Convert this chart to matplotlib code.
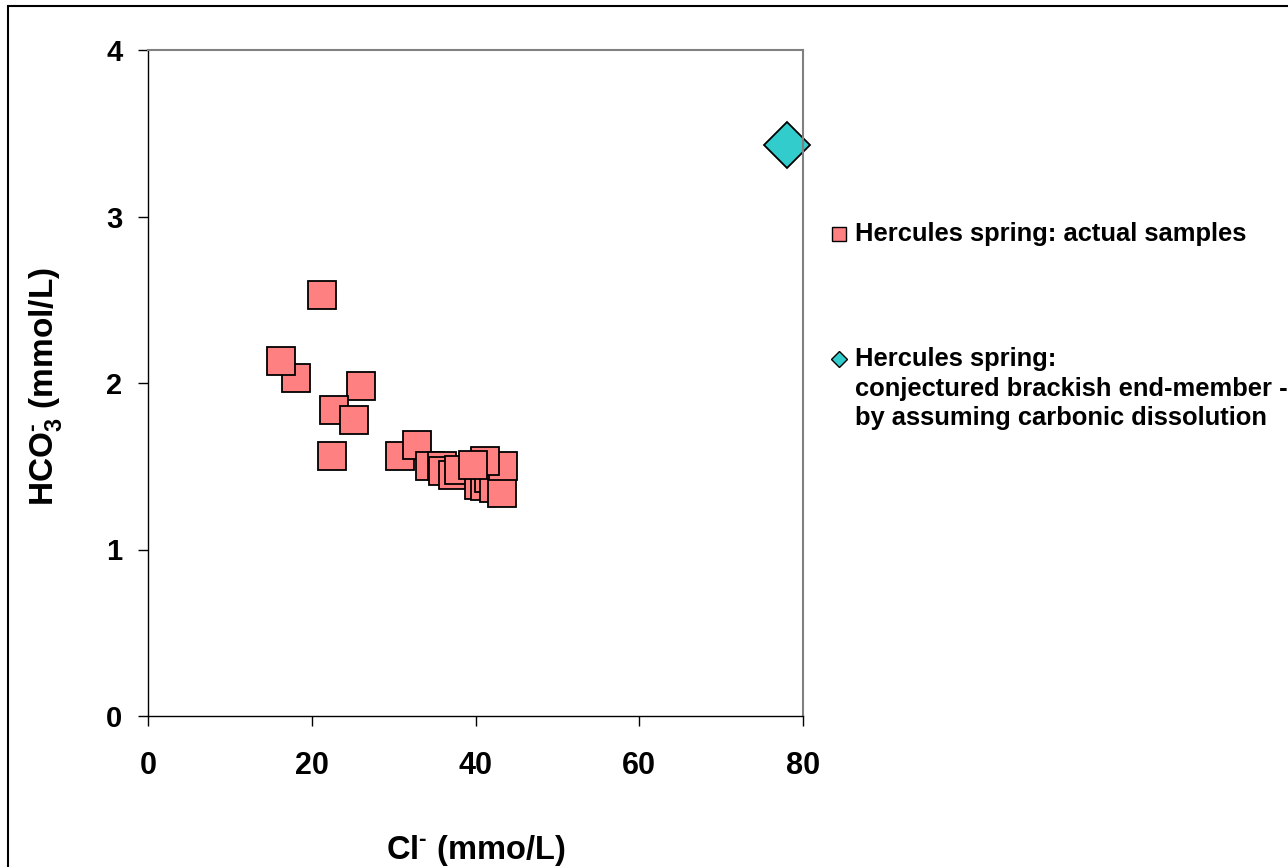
#!/usr/bin/env python
"""Cl- vs HCO3- scatter for the Hercules spring samples."""

import matplotlib as mpl
mpl.use('Agg')
import matplotlib.pyplot as plt
from matplotlib.lines import Line2D
from matplotlib.patches import Rectangle

plt.rcParams['font.family'] = ['Liberation Sans', 'DejaVu Sans']
plt.rcParams['font.weight'] = 'bold'
plt.rcParams['mathtext.fontset'] = 'custom'
plt.rcParams['mathtext.rm'] = 'Liberation Sans:bold'
plt.rcParams['mathtext.bf'] = 'Liberation Sans:bold'
plt.rcParams['mathtext.default'] = 'rm'

# actual samples (Cl-, HCO3-), in drawing order
cl_samples = [21.2, 18.1, 16.2, 26.0, 22.7, 25.2, 22.5, 30.8, 32.8,
              34.5, 35.9, 36.0, 37.2, 38.0, 40.4, 41.1, 41.7, 42.2,
              43.2, 43.4, 41.1, 39.7]
hco3_samples = [2.53, 2.03, 2.13, 1.98, 1.84, 1.78, 1.56, 1.56, 1.63,
                1.50, 1.50, 1.47, 1.45, 1.48, 1.39, 1.38, 1.43, 1.37,
                1.34, 1.50, 1.53, 1.51]

# conjectured brackish end-member
cl_end = [78.1]
hco3_end = [3.43]

x_ticks = [0, 20, 40, 60, 80]
y_ticks = [0, 1, 2, 3, 4]

SQ_COLOR = '#FF8080'
DIA_COLOR = '#33CCCC'

fig = plt.figure(figsize=(12.88, 8.67), dpi=100)
ax = fig.add_axes([148 / 1288, 1 - 716 / 867, 655 / 1288, 666 / 867])

ax.plot(cl_samples, hco3_samples, linestyle='none', marker='s',
        markersize=19.5, markerfacecolor=SQ_COLOR, markeredgecolor='black',
        markeredgewidth=1.3)
ax.plot(cl_end, hco3_end, linestyle='none', marker='D', markersize=23.5,
        markerfacecolor=DIA_COLOR, markeredgecolor='black',
        markeredgewidth=1.3, clip_on=False)

ax.set_xlim(0, 80)
ax.set_ylim(0, 4)
ax.set_xticks(x_ticks)
ax.set_yticks(y_ticks)
ax.tick_params(direction='out', length=7.5, width=1, color='black')
ax.tick_params(axis='x', labelsize=22, pad=18)
ax.tick_params(axis='y', labelsize=21, pad=11)
for lab in ax.get_xticklabels():
    lab.set_family(['Liberation Sans Narrow', 'Liberation Sans'])

for side in ['left', 'bottom']:
    ax.spines[side].set_color('black')
    ax.spines[side].set_linewidth(1)
for side in ['top', 'right']:
    ax.spines[side].set_color('#808080')
    ax.spines[side].set_linewidth(1.5)

ax.set_xlabel(r'Cl$^{\text{-}}$ (mmo/L)', fontsize=23.5, fontweight='bold')
ax.xaxis.set_label_coords(0.5, -0.176)
ax.set_ylabel(r'HCO$_3^{\text{-}}$ (mmol/L)', fontsize=24, fontweight='bold')
ax.yaxis.set_label_coords(-0.128, 0.495)

# legend, drawn by hand so the diamond sits on the first line
fig.add_artist(Line2D([839 / 1288], [1 - 234 / 867], transform=fig.transFigure,
                      marker='s', markersize=10, markerfacecolor=SQ_COLOR,
                      markeredgecolor='black', markeredgewidth=1,
                      linestyle='none'))
fig.add_artist(Line2D([839 / 1288], [1 - 359 / 867], transform=fig.transFigure,
                      marker='D', markersize=8.5, markerfacecolor=DIA_COLOR,
                      markeredgecolor='black', markeredgewidth=1,
                      linestyle='none'))
legend_lines = [
    ('Hercules spring: actual samples', 234),
    ('Hercules spring:', 359),
    ('conjectured brackish end-member -', 389),
    ('by assuming carbonic dissolution', 418),
]
for txt, ypx in legend_lines:
    fig.text(855 / 1288, 1 - ypx / 867, txt, fontsize=18.4,
             fontweight='bold', va='center', ha='left')

# outer chart border (left and top edges visible)
fig.add_artist(Rectangle((8 / 1288, -0.05), 1.1, 1 - 6 / 867 + 0.05,
                         transform=fig.transFigure, fill=False,
                         edgecolor='black', linewidth=1.5))

plt.savefig('out.png', dpi=100)
